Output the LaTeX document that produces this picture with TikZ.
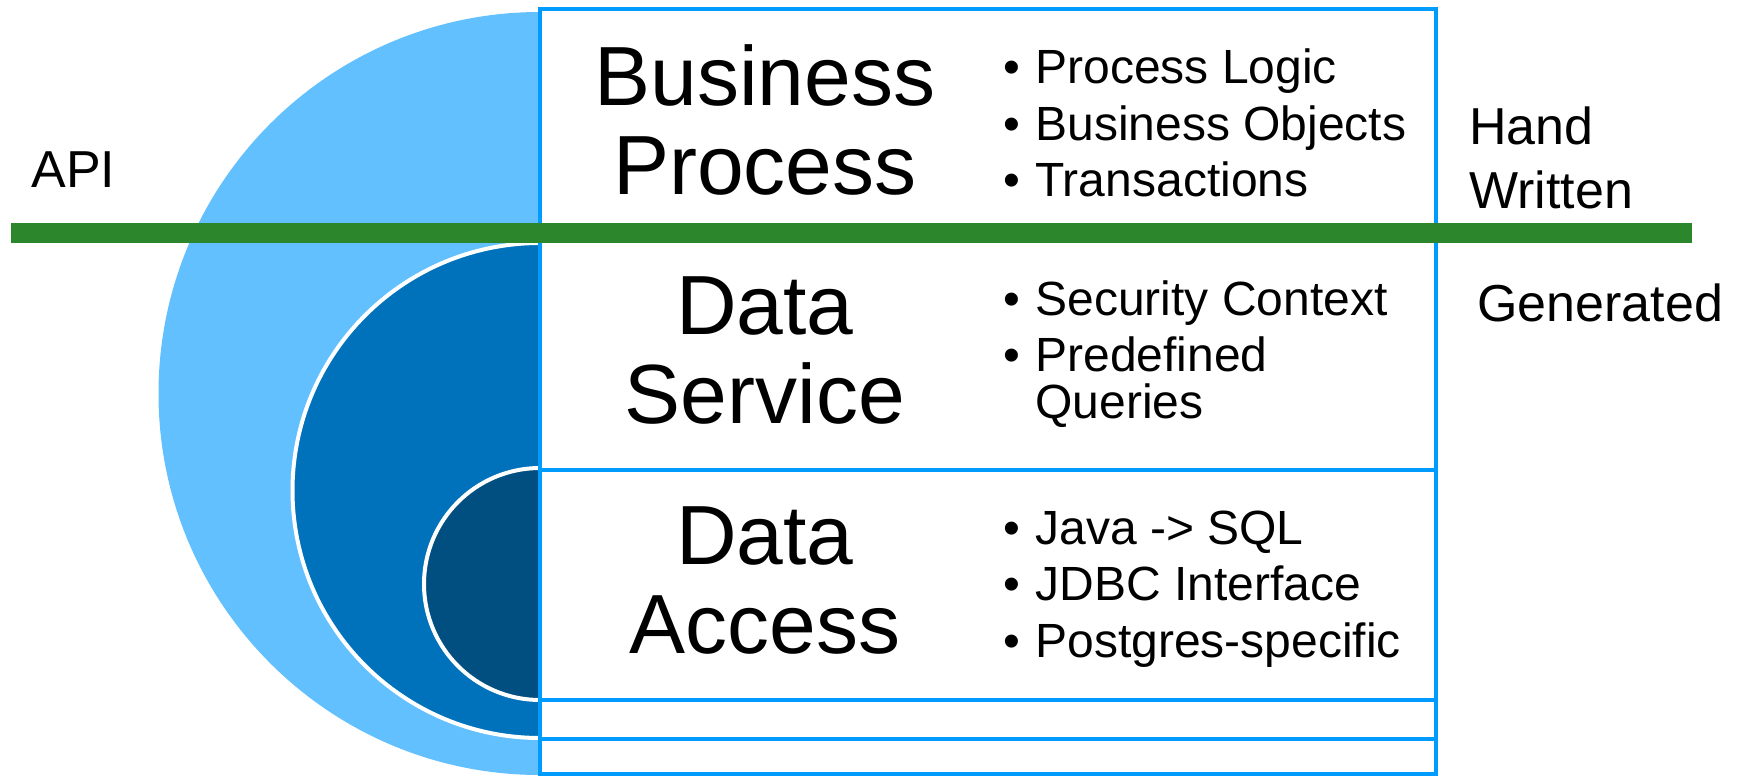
\documentclass[tikz,border=0pt]{standalone}
\usepackage{fontspec}
\setmainfont{Liberation Sans}

\definecolor{skyblue}{RGB}{99,192,255}
\definecolor{oceanblue}{RGB}{0,114,187}
\definecolor{deepblue}{RGB}{0,79,128}
\definecolor{edgeblue}{RGB}{0,155,255}
\definecolor{cutgreen}{RGB}{44,134,44}

\newcommand{\itemdot}{\makebox[16pt][l]{\textbullet}}

\tikzset{
    layer/.style={draw=edgeblue, line width=2pt, fill=white, rectangle, minimum width=448pt, inner sep=0pt},
    title/.style={align=center, inner sep=0pt, font=\fontsize{42}{44.5}\selectfont},
    points/.style={align=left, inner sep=0pt, anchor=west, font=\fontsize{24}{23.5}\selectfont},
    side/.style={align=left, inner sep=0pt, font=\fontsize{26}{32}\selectfont}
}

\begin{document}
\begin{tikzpicture}[x=0.5pt, y=-0.5pt]
        \useasboundingbox (0,0) rectangle (1747,776);

        \begin{scope}
            \clip (0,0) rectangle (541,776);
            \fill[skyblue] (540,393.5) circle[radius=381.5];
            \filldraw[fill=oceanblue, draw=white, line width=2pt] (540,490.5) circle[radius=247.5];
            \filldraw[fill=deepblue, draw=white, line width=2pt] (540,584) circle[radius=116];
        \end{scope}

        \node[layer, minimum height=112pt] (r1) at (988,121) {};
        \node[layer, minimum height=118.5pt] (r2) at (988,351.5) {};
        \node[layer, minimum height=115pt] (r3) at (988,585) {};
        \node[layer, minimum height=19.5pt] (r4) at (988,719.5) {};
        \node[layer, minimum height=17.5pt] (r5) at (988,756.5) {};

        \node[title] (bp) at (765,120) {Business\\Process};
        \node[title] (ds) at (765,350.5) {Data\\Service};
        \node[title] (da) at (765,580.5) {Data\\Access};

        \node[points] (p1) at (1003,123)
        {\itemdot Process Logic\\[4.75pt]\itemdot Business Objects\\[4.75pt]\itemdot Transactions};
        \node[points] (p2) at (1003,354)
        {\itemdot Security Context\\[4.75pt]\itemdot Predefined\\\makebox[16pt]{}Queries};
        \node[points] (p3) at (1003,589)
        {\itemdot Java -> SQL\\[4.75pt]\itemdot JDBC Interface\\[4.75pt]\itemdot Postgres-specific};

        \node[side, anchor=base west] (api) at (31,187) {API};
        \node[side, anchor=west] (hw) at (1469,158) {Hand\\Written};
        \node[side, anchor=base west] (gen) at (1477,321) {Generated};

        \coordinate (gl) at (11,233);
        \coordinate (gr) at (1692,233);
        \path[draw, cutgreen, line width=10pt] (gl) -- (gr);
    \end{tikzpicture}
\end{document}
